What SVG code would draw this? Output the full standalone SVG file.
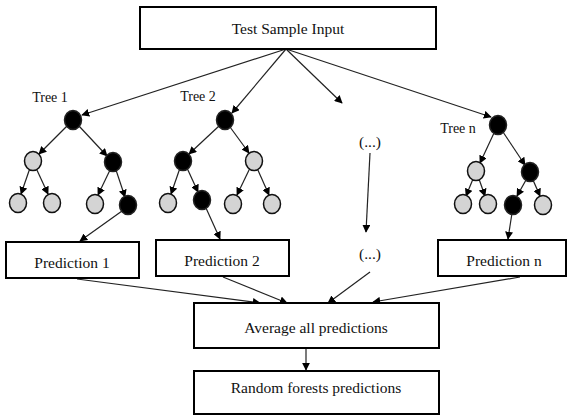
<svg xmlns="http://www.w3.org/2000/svg" width="569" height="417" viewBox="0 0 569 417">
  <defs>
    <marker id="arrow" viewBox="0 0 10 10" refX="9" refY="5" markerWidth="8" markerHeight="8" markerUnits="userSpaceOnUse" orient="auto">
      <path d="M0,0 L10,5 L0,10 z" fill="#000"/>
    </marker>
    <style>
      .box { fill: #fff; stroke: #000; stroke-width: 2; }
      .lbl { font-family: "Liberation Serif", "Times New Roman", serif; font-size: 15.5px; fill: #111; text-anchor: middle; }
      .tlbl { font-family: "Liberation Serif", "Times New Roman", serif; font-size: 14px; fill: #111; text-anchor: middle; }
      .dark { fill: #000; stroke: #222; stroke-width: 1.5; }
      .light { fill: #d4d4d4; stroke: #111; stroke-width: 1.5; }
      .edge { stroke: #222; stroke-width: 1.2; fill: none; marker-end: url(#arrow); }
    </style>
  </defs>
  <rect width="569" height="417" fill="#fff"/>

  <!-- connectors -->
  <g id="connectors">
    <!-- input to each tree -->
    <line class="edge" x1="286" y1="49" x2="82" y2="115"/>
    <line class="edge" x1="286" y1="49" x2="232" y2="113"/>
    <line class="edge" x1="286" y1="49" x2="342" y2="103"/>
    <line class="edge" x1="286" y1="49" x2="491" y2="117"/>
    <!-- tree 1 -->
    <line class="edge" x1="67" y1="126" x2="39" y2="154"/>
    <line class="edge" x1="79" y1="126" x2="107" y2="156"/>
    <line class="edge" x1="30" y1="168" x2="21" y2="194"/>
    <line class="edge" x1="36" y1="168" x2="48" y2="194"/>
    <line class="edge" x1="110" y1="170" x2="98" y2="195"/>
    <line class="edge" x1="116" y1="170" x2="125" y2="197"/>
    <line class="edge" x1="122" y1="211" x2="80" y2="241"/>
    <!-- tree 2 -->
    <line class="edge" x1="219" y1="126" x2="189" y2="154"/>
    <line class="edge" x1="230" y1="127" x2="249" y2="153"/>
    <line class="edge" x1="180" y1="168" x2="171" y2="194"/>
    <line class="edge" x1="187" y1="168" x2="198" y2="192"/>
    <line class="edge" x1="250" y1="168" x2="237" y2="195"/>
    <line class="edge" x1="257" y1="168" x2="269" y2="195"/>
    <line class="edge" x1="206" y1="208" x2="220" y2="239"/>
    <!-- elided trees -->
    <line class="edge" x1="370" y1="153" x2="366" y2="232"/>
    <!-- tree n -->
    <line class="edge" x1="494" y1="133" x2="480" y2="163"/>
    <line class="edge" x1="503" y1="132" x2="525" y2="165"/>
    <line class="edge" x1="473" y1="179" x2="466" y2="196"/>
    <line class="edge" x1="479" y1="179" x2="485" y2="196"/>
    <line class="edge" x1="526" y1="180" x2="517" y2="196"/>
    <line class="edge" x1="533" y1="180" x2="540" y2="196"/>
    <line class="edge" x1="512" y1="213" x2="508" y2="239"/>
    <!-- predictions to average -->
    <line class="edge" x1="77" y1="279" x2="260" y2="303"/>
    <line class="edge" x1="223" y1="277" x2="287" y2="303"/>
    <line class="edge" x1="370" y1="272" x2="328" y2="303"/>
    <line class="edge" x1="520" y1="277" x2="373" y2="302"/>
    <line class="edge" x1="306" y1="349" x2="306" y2="370"/>
  </g>

  <g id="input">
    <rect class="box" x="140" y="7" width="296" height="42"/>
    <text class="lbl" x="288" y="34">Test Sample Input</text>
  </g>

  <g id="tree1">
    <text class="tlbl" x="50" y="102">Tree 1</text>
    <ellipse class="dark" cx="73" cy="120" rx="8.5" ry="9.5"/>
    <ellipse class="light" cx="33" cy="161" rx="8.5" ry="9.5"/>
    <ellipse class="dark" cx="113" cy="162" rx="8.5" ry="9.5"/>
    <ellipse class="light" cx="18" cy="203" rx="8.5" ry="9.5"/>
    <ellipse class="light" cx="52" cy="203" rx="8.5" ry="9.5"/>
    <ellipse class="light" cx="95" cy="204" rx="8.5" ry="9.5"/>
    <ellipse class="dark" cx="128" cy="205" rx="8.5" ry="9.5"/>
  </g>

  <g id="tree2">
    <text class="tlbl" x="198" y="101">Tree 2</text>
    <ellipse class="dark" cx="225" cy="120" rx="8.5" ry="9.5"/>
    <ellipse class="dark" cx="183" cy="161" rx="8.5" ry="9.5"/>
    <ellipse class="light" cx="254" cy="161" rx="8.5" ry="9.5"/>
    <ellipse class="light" cx="168" cy="203" rx="8.5" ry="9.5"/>
    <ellipse class="dark" cx="202" cy="200" rx="8.5" ry="9.5"/>
    <ellipse class="light" cx="233" cy="204" rx="8.5" ry="9.5"/>
    <ellipse class="light" cx="272" cy="204" rx="8.5" ry="9.5"/>
  </g>

  <g id="elided-tree">
    <text class="lbl" x="370" y="147">(...)</text>
    <text class="lbl" x="370" y="259">(...)</text>
  </g>

  <g id="treeN">
    <text class="tlbl" x="458" y="133">Tree n</text>
    <ellipse class="dark" cx="498" cy="125" rx="8.5" ry="9.5"/>
    <ellipse class="light" cx="476" cy="171" rx="8.5" ry="9.5"/>
    <ellipse class="dark" cx="530" cy="172" rx="8.5" ry="9.5"/>
    <ellipse class="light" cx="463" cy="204" rx="8.5" ry="9.5"/>
    <ellipse class="light" cx="488" cy="204" rx="8.5" ry="9.5"/>
    <ellipse class="dark" cx="513" cy="205" rx="8.5" ry="9.5"/>
    <ellipse class="light" cx="543" cy="205" rx="8.5" ry="9.5"/>
  </g>

  <g id="prediction1">
    <rect class="box" x="6" y="242" width="133" height="36"/>
    <text class="lbl" x="72" y="268">Prediction 1</text>
  </g>
  <g id="prediction2">
    <rect class="box" x="156" y="240" width="133" height="36"/>
    <text class="lbl" x="222" y="266">Prediction 2</text>
  </g>
  <g id="predictionN">
    <rect class="box" x="438" y="240" width="128" height="36"/>
    <text class="lbl" x="504" y="266">Prediction n</text>
  </g>

  <g id="average">
    <rect class="box" x="194" y="303" width="245" height="45"/>
    <text class="lbl" x="316" y="333">Average all predictions</text>
  </g>
  <g id="result">
    <rect class="box" x="194" y="371" width="245" height="43"/>
    <text class="lbl" x="316" y="393">Random forests predictions</text>
  </g>
</svg>
